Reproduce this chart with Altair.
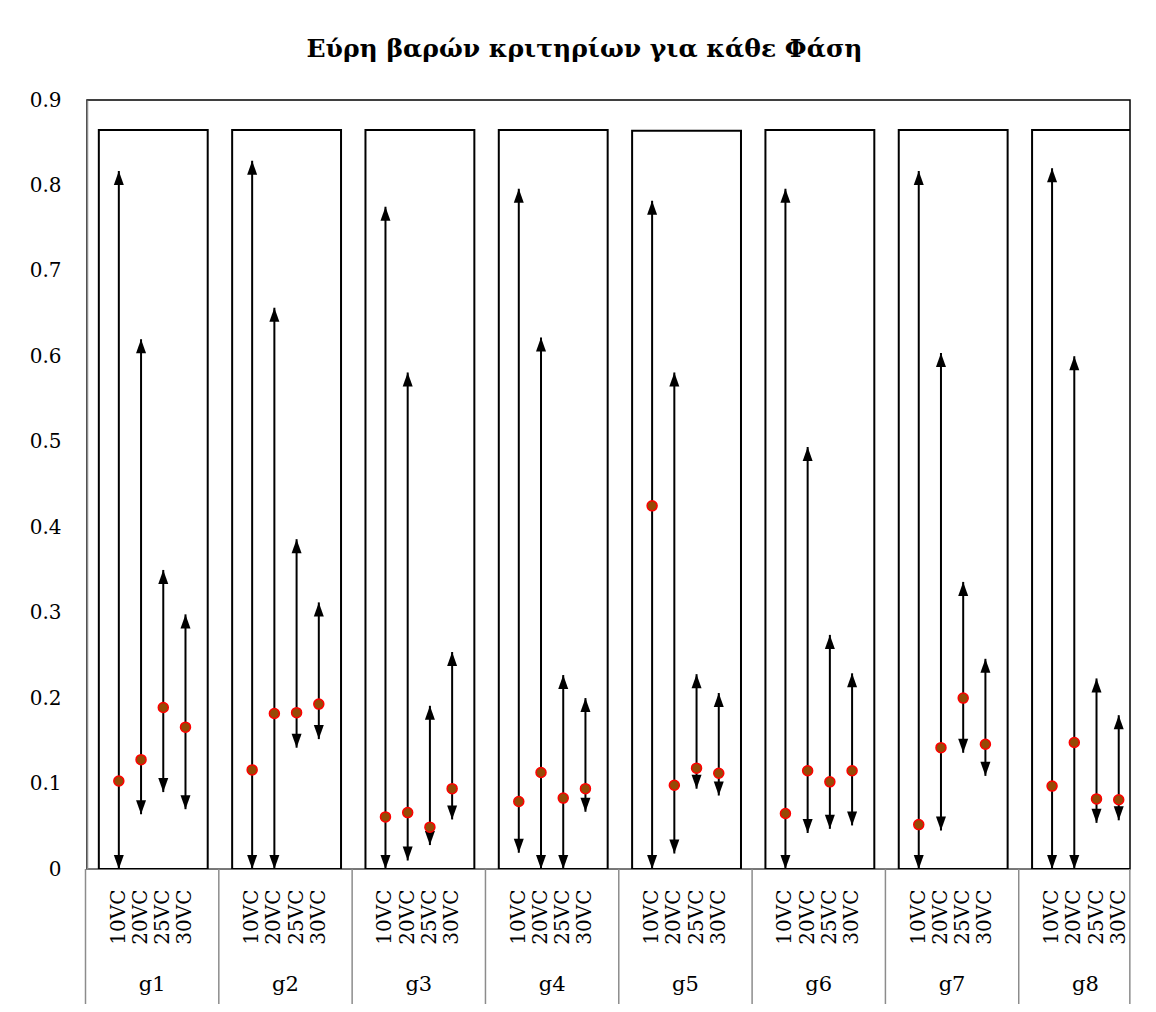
import altair as alt
import pandas as pd

# ---------------- data ----------------
groups = ["g1", "g2", "g3", "g4", "g5", "g6", "g7", "g8"]
categories = ["10VC", "20VC", "25VC", "30VC"]

w_min = [
    [0.000, 0.064, 0.090, 0.070],
    [0.000, 0.000, 0.142, 0.152],
    [0.000, 0.010, 0.028, 0.058],
    [0.019, 0.000, 0.000, 0.067],
    [0.000, 0.018, 0.094, 0.086],
    [0.000, 0.042, 0.047, 0.051],
    [0.000, 0.045, 0.136, 0.109],
    [0.000, 0.000, 0.054, 0.057],
]
w_max = [
    [0.817, 0.620, 0.350, 0.298],
    [0.829, 0.657, 0.386, 0.312],
    [0.775, 0.581, 0.191, 0.254],
    [0.796, 0.622, 0.227, 0.200],
    [0.782, 0.581, 0.228, 0.206],
    [0.796, 0.494, 0.274, 0.229],
    [0.817, 0.604, 0.336, 0.246],
    [0.820, 0.600, 0.223, 0.180],
]
w_val = [
    [0.103, 0.128, 0.189, 0.166],
    [0.116, 0.182, 0.183, 0.193],
    [0.061, 0.066, 0.049, 0.094],
    [0.079, 0.113, 0.083, 0.094],
    [0.425, 0.098, 0.118, 0.112],
    [0.065, 0.115, 0.102, 0.115],
    [0.052, 0.142, 0.200, 0.146],
    [0.097, 0.148, 0.082, 0.081],
]
box_top = [0.865, 0.865, 0.865, 0.865, 0.864, 0.865, 0.865, 0.865]
y_ticks = [0, 0.1, 0.2, 0.3, 0.4, 0.5, 0.6, 0.7, 0.8, 0.9]

title = "Εύρη βαρών κριτηρίων για κάθε Φάση"

# ---------------- tables ----------------
rows = []
for gi, g in enumerate(groups):
    for ci, c in enumerate(categories):
        rows.append({"group": g, "cat": c, "key": f"{g}|{c}",
                     "lo": w_min[gi][ci], "hi": w_max[gi][ci], "val": w_val[gi][ci]})
df = pd.DataFrame(rows)

boxes = pd.DataFrame({
    "group": groups,
    "left": [f"{g}|<" for g in groups],
    "right": [f"{g}|>" for g in groups],
    "mid": [f"{g}|25VC" for g in groups],
    "zero": [0.0] * len(groups),
    "top": box_top,
})
seps = pd.DataFrame({"key": [f"{g}|<" for g in groups] + [f"{groups[-1]}|>"]})
base_line = pd.DataFrame({"lo": [0.0]})

slot_domain = []
for g in groups:
    slot_domain += [f"{g}|<"] + [f"{g}|{c}" for c in categories] + [f"{g}|>"]
cat_keys = [f"{g}|{c}" for g in groups for c in categories]

# ---------------- layout ----------------
W, H = 1043, 769
SLOT = 22.22
FONT = "DejaVu Serif"
GRAY = "#8c8c8c"

xscale = alt.Scale(domain=slot_domain, range=[-1.5, -1.5 + SLOT * len(slot_domain)],
                   paddingInner=0, paddingOuter=0)
yscale = alt.Scale(domain=[0, 0.9], nice=False, zero=True)

x_axis = alt.Axis(values=cat_keys, labelExpr="split(datum.value, '|')[1]",
                  labelAngle=270, labelAlign="right", labelBaseline="middle",
                  labelPadding=20, ticks=False, domain=False, labelFont=FONT,
                  labelFontSize=20, labelColor="black", title=None, grid=False)
y_axis = alt.Axis(values=y_ticks,
                  labelExpr="datum.value == 0 ? '0' : format(datum.value, '.1f')",
                  ticks=False, grid=False, domainColor=GRAY, domainWidth=1.5,
                  labelFont=FONT, labelFontSize=20, labelColor="black",
                  labelPadding=26, title=None)

# frame bottom (gray axis line)
bottom = alt.Chart(base_line).mark_rule(color=GRAY, strokeWidth=1.5).encode(
    y=alt.Y("lo:Q", scale=yscale, axis=y_axis)
)

box_layer = alt.Chart(boxes).mark_rect(
    fillOpacity=0, stroke="black", strokeWidth=2, clip=True
).encode(
    x=alt.X("left:N", scale=xscale, bandPosition=0.6, axis=x_axis),
    x2=alt.X2("right:N", bandPosition=0.5),
    y=alt.Y("zero:Q", scale=yscale, axis=y_axis),
    y2="top:Q",
)

rules = alt.Chart(df).mark_rule(color="black", strokeWidth=2).encode(
    x=alt.X("key:N", scale=xscale, axis=x_axis),
    y=alt.Y("lo:Q", scale=yscale, axis=y_axis),
    y2="hi:Q",
)

up_shape = "M0,-1L0.714,1L-0.714,1Z"
down_shape = "M0,1L0.714,-1L-0.714,-1Z"

heads_up = alt.Chart(df).mark_point(
    shape=up_shape, filled=True, color="black", size=196, opacity=1, yOffset=7, strokeWidth=0
).encode(
    x=alt.X("key:N", scale=xscale, axis=x_axis),
    y=alt.Y("hi:Q", scale=yscale, axis=y_axis),
)
heads_down = alt.Chart(df).mark_point(
    shape=down_shape, filled=True, color="black", size=196, opacity=1, yOffset=-7, strokeWidth=0
).encode(
    x=alt.X("key:N", scale=xscale, axis=x_axis),
    y=alt.Y("lo:Q", scale=yscale, axis=y_axis),
)

dots = alt.Chart(df).mark_point(
    shape="circle", filled=True, fill="#964a06", stroke="#ff0000", strokeWidth=1.5,
    size=100, opacity=1
).encode(
    x=alt.X("key:N", scale=xscale, axis=x_axis),
    y=alt.Y("val:Q", scale=yscale, axis=y_axis),
)

sep_layer = alt.Chart(seps).mark_rule(color=GRAY, strokeWidth=1.5).encode(
    x=alt.X("key:N", scale=xscale, bandPosition=0, axis=x_axis),
    y=alt.value(H),
    y2=alt.value(H + 135),
)

group_labels = alt.Chart(boxes).mark_text(
    font=FONT, fontSize=21, color="black", baseline="middle", align="center"
).encode(
    x=alt.X("mid:N", scale=xscale, bandPosition=0, axis=x_axis),
    y=alt.value(H + 116),
    text="group:N",
)

chart = alt.layer(
    bottom, box_layer, rules, heads_up, heads_down, dots, sep_layer, group_labels
).properties(
    width=W,
    height=H,
    autosize=alt.AutoSizeParams(type="none"),
    padding={"left": 79, "top": 92, "right": 10, "bottom": 135},
    title=alt.TitleParams(title, font=FONT, fontSize=25, fontWeight="bold",
                          color="black", anchor="middle", dx=-24, offset=28),
).configure_view(
    stroke="black", strokeWidth=1.5
)

chart.save("out.html", embed_options={"renderer": "svg", "actions": False})
